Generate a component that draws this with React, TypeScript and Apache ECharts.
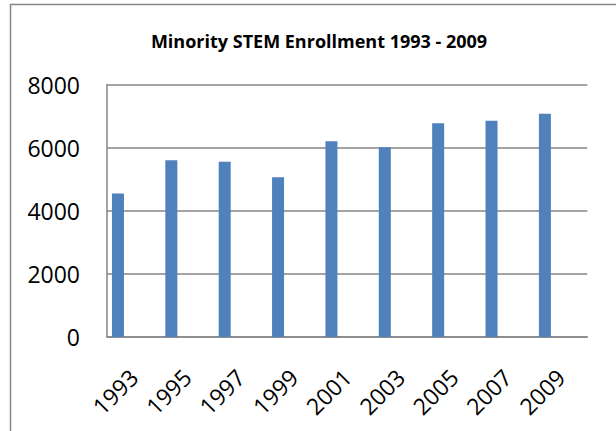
import React, { useEffect, useRef } from "react";
import * as echarts from "echarts";

const years = ["1993", "1995", "1997", "1999", "2001", "2003", "2005", "2007", "2009"];
const enrollment = [4550, 5600, 5555, 5060, 6200, 6010, 6770, 6855, 7075];
const emptySeries = ["-", "-", "-", "-", "-", "-", "-", "-", "-"];
const yTicks = { min: 0, max: 8000, interval: 2000 };
const titleText = "Minority STEM Enrollment 1993 - 2009";

export default function App() {
  const ref = useRef<HTMLDivElement>(null);
  useEffect(() => {
    if (!ref.current) return;
    const chart = echarts.init(ref.current, undefined, { renderer: "svg" });
    const font = "'Open Sans', 'Noto Sans', sans-serif";
    chart.setOption({
      animation: false,
      backgroundColor: "#ffffff",
      title: {
        text: titleText,
        left: 314,
        top: 27,
        textAlign: "center",
        textStyle: { fontFamily: font, fontWeight: "bold", fontSize: 18, color: "#000000" },
      },
      graphic: [
        {
          type: "polyline",
          shape: { points: [[10.5, 600], [10.5, 4.5], [800, 4.5]] },
          style: { stroke: "#868686", lineWidth: 1.5, fill: "none" },
          silent: true,
        },
      ],
      grid: { left: 107, top: 84.5, right: 28.7, bottom: 94, containLabel: false },
      xAxis: {
        type: "category",
        data: years,
        axisLine: { show: true, lineStyle: { color: "#868686", width: 1.5 } },
        axisTick: { show: false },
        axisLabel: {
          rotate: 45,
          margin: 36,
          interval: 0,
          fontFamily: font,
          fontSize: 23,
          color: "#000000",
        },
        splitLine: { show: false },
      },
      yAxis: {
        type: "value",
        min: yTicks.min,
        max: yTicks.max,
        interval: yTicks.interval,
        axisLine: { show: true, lineStyle: { color: "#868686", width: 1.5 } },
        axisTick: { show: false },
        axisLabel: {
          margin: 27,
          fontFamily: font,
          fontSize: 23,
          color: "#000000",
          formatter: (v: number) => String(v),
        },
        splitLine: { show: true, lineStyle: { color: "#868686", width: 1.5 } },
      },
      series: [
        {
          type: "bar",
          data: enrollment,
          barWidth: 12,
          barGap: "162%",
          itemStyle: { color: "#4F81BD" },
        },
        {
          type: "bar",
          data: emptySeries,
          barWidth: 12,
          itemStyle: { color: "#C0504D" },
        },
      ],
    });
    return () => chart.dispose();
  }, []);
  return (
    <div
      ref={ref}
      style={{ position: "fixed", left: 0, top: 0, width: 616, height: 431 }}
    />
  );
}
